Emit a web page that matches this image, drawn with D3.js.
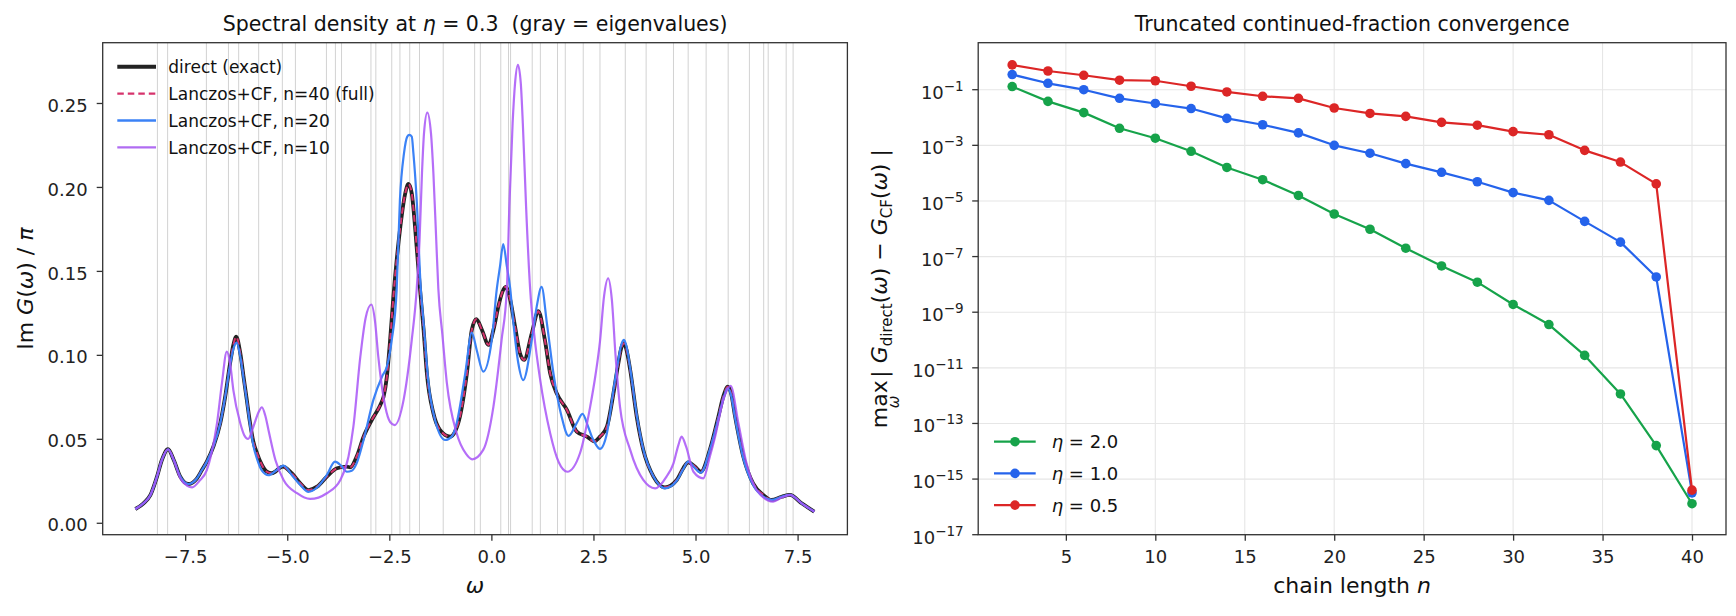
<!DOCTYPE html>
<html>
<head>
<meta charset="utf-8">
<script src="https://cdn.jsdelivr.net/npm/d3@7"></script>
<style>
  html, body { margin: 0; padding: 0; background: #fff; }
  svg { display: block; font-family: "DejaVu Sans", sans-serif; }
</style>
</head>
<body>
<div id="chart"></div>
<script>
// ---------- data ----------

// eigenvalues (gray vertical lines)
const eigenvalues = [-8.18, -7.93, -6.98, -6.44, -6.19, -5.70, -5.12, -4.80, -4.04, -3.82,
  -3.67, -2.95, -2.83, -2.44, -2.24, -2.00, -1.76, -1.18, -0.41, -0.27,
  0.23, 0.42, 0.47, 1.00, 1.20, 1.62, 1.81, 2.25, 2.66, 3.28,
  3.79, 4.46, 4.82, 5.26, 5.80, 6.32, 6.67, 6.78, 7.22, 7.39];

// [omega, Im G / pi] for the direct (exact) spectrum; the n=40 CF is the same curve
const directCurve = [[-8.72,0.0082],[-8.52,0.0116],[-8.35,0.0166],[-8.19,0.0275],[-8.07,0.0374],
  [-7.92,0.0438],[-7.78,0.0374],[-7.62,0.0275],[-7.42,0.0231],[-7.21,0.0265],[-7.09,0.0314],
  [-6.97,0.0364],[-6.81,0.0453],[-6.64,0.0593],[-6.52,0.0751],[-6.40,0.0950],[-6.32,0.1059],
  [-6.25,0.1108],[-6.15,0.1010],[-6.07,0.0870],[-5.99,0.0731],[-5.91,0.0593],[-5.83,0.0483],
  [-5.74,0.0414],[-5.62,0.0344],[-5.50,0.0304],[-5.38,0.0295],[-5.11,0.0334],[-4.89,0.0295],
  [-4.68,0.0235],[-4.48,0.0195],[-4.27,0.0215],[-4.03,0.0275],[-3.78,0.0325],[-3.54,0.0334],
  [-3.46,0.0330],[-3.30,0.0394],[-3.13,0.0513],[-2.93,0.0612],[-2.72,0.0702],[-2.64,0.0751],
  [-2.56,0.0870],[-2.48,0.1089],[-2.40,0.1347],[-2.23,0.1763],[-2.11,0.1962],[-2.03,0.2018],
  [-1.95,0.1962],[-1.87,0.1763],[-1.75,0.1397],[-1.66,0.1148],[-1.58,0.0890],[-1.42,0.0652],
  [-1.26,0.0553],[-1.01,0.0513],[-0.89,0.0543],[-0.77,0.0632],[-0.60,0.0890],[-0.48,0.1148],
  [-0.37,0.1212],[-0.23,0.1148],[-0.07,0.1059],[0.05,0.1148],[0.17,0.1287],[0.27,0.1375],
  [0.35,0.1405],[0.45,0.1340],[0.58,0.1168],[0.70,0.1010],[0.80,0.0970],[0.99,0.1129],
  [1.15,0.1260],[1.31,0.1089],[1.44,0.0890],[1.60,0.0771],[1.85,0.0672],[2.09,0.0543],
  [2.34,0.0513],[2.52,0.0485],[2.66,0.0513],[2.83,0.0572],[2.99,0.0771],[3.11,0.0950],
  [3.18,0.1039],[3.25,0.1069],[3.31,0.1029],[3.40,0.0910],[3.56,0.0632],[3.72,0.0434],
  [3.97,0.0275],[4.25,0.0211],[4.54,0.0255],[4.70,0.0325],[4.82,0.0360],[4.99,0.0334],
  [5.13,0.0304],[5.35,0.0434],[5.56,0.0632],[5.68,0.0751],[5.79,0.0810],[5.87,0.0771],
  [5.97,0.0632],[6.17,0.0394],[6.41,0.0235],[6.66,0.0166],[6.86,0.0136],[7.11,0.0155],
  [7.31,0.0166],[7.60,0.0116],[7.91,0.0066]];

// Lanczos + CF truncated at n = 20
const lanczos20Curve = [[-8.72,0.0082],[-8.52,0.0116],[-8.35,0.0166],[-8.19,0.0275],[-8.07,0.0374],
  [-7.92,0.0438],[-7.78,0.0374],[-7.62,0.0275],[-7.42,0.0231],[-7.21,0.0265],[-7.09,0.0314],
  [-6.97,0.0364],[-6.81,0.0453],[-6.64,0.0593],[-6.52,0.0751],[-6.40,0.0940],[-6.32,0.1035],
  [-6.24,0.1073],[-6.15,0.0990],[-6.07,0.0860],[-5.99,0.0725],[-5.91,0.0580],[-5.83,0.0460],
  [-5.74,0.0380],[-5.62,0.0310],[-5.46,0.0283],[-5.28,0.0310],[-5.09,0.0340],[-4.89,0.0285],
  [-4.68,0.0225],[-4.48,0.0184],[-4.27,0.0210],[-4.03,0.0285],[-3.83,0.0364],[-3.68,0.0340],
  [-3.54,0.0304],[-3.42,0.0310],[-3.30,0.0354],[-3.13,0.0493],[-2.89,0.0732],[-2.68,0.0870],
  [-2.56,0.0930],[-2.44,0.1089],[-2.32,0.1387],[-2.24,0.1923],[-2.14,0.2201],[-2.06,0.2300],
  [-2.01,0.2310],[-1.95,0.2300],[-1.91,0.2201],[-1.83,0.1923],[-1.73,0.1397],[-1.66,0.1188],
  [-1.54,0.0831],[-1.38,0.0612],[-1.13,0.0493],[-0.97,0.0513],[-0.85,0.0593],[-0.64,0.0890],
  [-0.48,0.1132],[-0.36,0.1029],[-0.20,0.0900],[0.01,0.1089],[0.13,0.1387],[0.21,0.1525],
  [0.29,0.1660],[0.38,0.1525],[0.46,0.1397],[0.54,0.1188],[0.66,0.0950],[0.78,0.0850],
  [0.99,0.1089],[1.11,0.1287],[1.23,0.1405],[1.36,0.1188],[1.52,0.0890],[1.72,0.0632],
  [1.89,0.0517],[2.09,0.0593],[2.23,0.0648],[2.37,0.0572],[2.46,0.0513],[2.55,0.0470],
  [2.66,0.0440],[2.83,0.0533],[2.99,0.0790],[3.11,0.0970],[3.18,0.1059],[3.25,0.1089],
  [3.31,0.1050],[3.40,0.0920],[3.56,0.0642],[3.72,0.0438],[3.97,0.0275],[4.25,0.0205],
  [4.54,0.0250],[4.70,0.0320],[4.82,0.0364],[4.99,0.0325],[5.13,0.0298],[5.35,0.0434],
  [5.56,0.0622],[5.68,0.0740],[5.79,0.0800],[5.87,0.0760],[5.97,0.0622],[6.17,0.0384],
  [6.41,0.0225],[6.66,0.0156],[6.86,0.0136],[7.11,0.0155],[7.31,0.0166],[7.60,0.0116],
  [7.91,0.0066]];

// Lanczos + CF truncated at n = 10
const lanczos10Curve = [[-8.72,0.0082],[-8.52,0.0116],[-8.35,0.0166],[-8.19,0.0275],[-8.07,0.0374],
  [-7.92,0.0438],[-7.78,0.0374],[-7.62,0.0265],[-7.45,0.0220],[-7.33,0.0211],[-7.15,0.0250],
  [-6.97,0.0314],[-6.85,0.0420],[-6.72,0.0593],[-6.60,0.0830],[-6.48,0.1019],[-6.40,0.0950],
  [-6.32,0.0790],[-6.15,0.0593],[-6.05,0.0520],[-5.96,0.0499],[-5.83,0.0572],[-5.70,0.0660],
  [-5.62,0.0688],[-5.54,0.0640],[-5.46,0.0553],[-5.29,0.0374],[-5.09,0.0255],[-4.76,0.0176],
  [-4.44,0.0142],[-4.03,0.0176],[-3.70,0.0255],[-3.50,0.0394],[-3.38,0.0572],[-3.21,0.0989],
  [-3.08,0.1220],[-2.94,0.1300],[-2.85,0.1200],[-2.77,0.0989],[-2.60,0.0692],[-2.48,0.0600],
  [-2.37,0.0582],[-2.15,0.0732],[-1.95,0.1089],[-1.83,0.1387],[-1.76,0.1680],[-1.70,0.2080],
  [-1.65,0.2320],[-1.57,0.2443],[-1.48,0.2320],[-1.42,0.2080],[-1.35,0.1680],[-1.30,0.1397],
  [-1.20,0.1120],[-1.09,0.0831],[-0.85,0.0533],[-0.62,0.0410],[-0.47,0.0378],[-0.20,0.0434],
  [0.05,0.0692],[0.25,0.1089],[0.38,0.1397],[0.44,0.1883],[0.52,0.2379],[0.58,0.2618],
  [0.65,0.2727],[0.72,0.2618],[0.77,0.2379],[0.85,0.1883],[0.95,0.1390],[1.05,0.1120],
  [1.19,0.0860],[1.44,0.0533],[1.65,0.0360],[1.86,0.0304],[2.17,0.0414],[2.42,0.0692],
  [2.55,0.0880],[2.66,0.1080],[2.76,0.1350],[2.86,0.1456],[2.95,0.1330],[3.04,0.1000],
  [3.15,0.0692],[3.40,0.0434],[3.72,0.0255],[4.01,0.0205],[4.29,0.0275],[4.46,0.0354],
  [4.58,0.0463],[4.66,0.0513],[4.77,0.0453],[4.95,0.0304],[5.19,0.0265],[5.35,0.0394],
  [5.48,0.0513],[5.68,0.0732],[5.86,0.0815],[6.05,0.0593],[6.25,0.0354],[6.50,0.0195],
  [6.90,0.0126],[7.11,0.0150],[7.31,0.0166],[7.60,0.0116],[7.91,0.0066]];

// right panel: max error vs chain length
const chainLengths = [2, 4, 6, 8, 10, 12, 14, 16, 18, 20, 22, 24, 26, 28, 30, 32, 34, 36, 38, 40];
const errEta20 = [0.13, 0.038, 0.015, 4.1e-3, 1.8e-3, 6.1e-4, 1.6e-4, 5.8e-5, 1.58e-5, 3.4e-6,
  9.6e-7, 2.0e-7, 4.6e-8, 1.2e-8, 1.9e-9, 3.6e-10, 2.8e-11, 1.15e-12, 1.6e-14, 1.3e-16];
const errEta10 = [0.35, 0.17, 0.10, 0.049, 0.032, 0.021, 9.3e-3, 5.5e-3, 2.8e-3, 1.0e-3,
  5.2e-4, 2.2e-4, 1.07e-4, 4.9e-5, 2.0e-5, 1.05e-5, 1.85e-6, 3.3e-7, 1.85e-8, 3.2e-16];
const errEta05 = [0.78, 0.47, 0.33, 0.22, 0.21, 0.133, 0.083, 0.058, 0.049, 0.022,
  0.014, 0.011, 6.7e-3, 5.3e-3, 3.1e-3, 2.4e-3, 6.6e-4, 2.5e-4, 4.1e-5, 4.0e-16];

const leftXTicks = [-7.5, -5, -2.5, 0, 2.5, 5, 7.5];
const leftYTicks = [0, 0.05, 0.10, 0.15, 0.20, 0.25];
const rightXTicks = [5, 10, 15, 20, 25, 30, 35, 40];
const rightYExponents = [-1, -3, -5, -7, -9, -11, -13, -15, -17];

// ---------- drawing ----------
const W = 1736, H = 616;
const svg = d3.select("#chart").append("svg")
  .attr("width", W).attr("height", H)
  .attr("xml:space", "preserve")
  .style("white-space", "pre");

svg.append("rect").attr("width", W).attr("height", H).attr("fill", "#fff");

function styleAxis(g) {
  g.select(".domain").remove();
  g.selectAll(".tick line").attr("stroke", "#333").attr("stroke-width", 1.3);
  g.selectAll(".tick text")
    .attr("fill", "#222")
    .style("font-family", "DejaVu Sans")
    .style("font-size", "18px");
}

// adds a text with tspans: parts = [{t, italic, size, dx, dy}]
function richText(parent, parts, baseSize) {
  const text = parent.append("text").style("font-size", baseSize + "px").attr("fill", "#111");
  parts.forEach(p => {
    const ts = text.append("tspan").text(p.t);
    if (p.italic) ts.style("font-style", "italic");
    if (p.size) ts.style("font-size", p.size + "px");
    if (p.dx) ts.attr("dx", p.dx);
    if (p.dy) ts.attr("dy", p.dy);
  });
  return text;
}

function drawSpectral() {
  const box = { left: 102.7, right: 847.4, top: 42.7, bottom: 534.7 };

  const x = d3.scaleLinear().domain([-9.52, 8.72]).range([box.left, box.right]);
  const y = d3.scaleLinear().domain([-0.0071, 0.2859]).range([box.bottom, box.top]);

  const g = svg.append("g");

  // eigenvalue markers
  g.append("g").selectAll("line")
    .data(eigenvalues)
    .join("line")
    .attr("x1", d => x(d)).attr("x2", d => x(d))
    .attr("y1", box.top).attr("y2", box.bottom)
    .attr("stroke", "#d2d2d2")
    .attr("stroke-width", 1);

  const line = d3.line()
    .x(d => x(d[0]))
    .y(d => y(d[1]))
    .curve(d3.curveMonotoneX);

  const series = [
    { data: directCurve, color: "#222222", width: 3.8, dash: null, opacity: 1 },
    { data: directCurve, color: "#d6336c", width: 2, dash: "6.5,4", opacity: 1 },
    { data: lanczos20Curve, color: "#3b82f6", width: 2.2, dash: null, opacity: 1 },
    { data: lanczos10Curve, color: "#a855f7", width: 2.2, dash: null, opacity: 0.85 }
  ];

  series.forEach(s => {
    g.append("path")
      .datum(s.data)
      .attr("d", line)
      .attr("fill", "none")
      .attr("stroke", s.color)
      .attr("stroke-width", s.width)
      .attr("stroke-dasharray", s.dash)
      .attr("stroke-linejoin", "round")
      .attr("opacity", s.opacity);
  });

  // axes
  g.append("g")
    .attr("transform", `translate(0,${box.bottom})`)
    .call(d3.axisBottom(x).tickValues(leftXTicks).tickFormat(d3.format(".1f")).tickSize(6).tickPadding(10))
    .call(styleAxis);

  g.append("g")
    .attr("transform", `translate(${box.left},0)`)
    .call(d3.axisLeft(y).tickValues(leftYTicks).tickFormat(d3.format(".2f")).tickSize(6).tickPadding(9))
    .call(styleAxis)
    .call(a => a.selectAll(".tick text").attr("dy", "0.45em"));

  g.append("rect")
    .attr("x", box.left).attr("y", box.top)
    .attr("width", box.right - box.left).attr("height", box.bottom - box.top)
    .attr("fill", "none").attr("stroke", "#333").attr("stroke-width", 1.3);

  // title (two spaces before the bracket, as in the original)
  richText(g, [
    { t: "Spectral density at " },
    { t: "η", italic: true },
    { t: " = 0.3\u00a0\u00a0(gray = eigenvalues)" }
  ], 20.5)
    .attr("x", (box.left + box.right) / 2).attr("y", 31)
    .attr("text-anchor", "middle");

  // axis labels
  richText(g, [{ t: "ω", italic: true }], 22)
    .attr("x", (box.left + box.right) / 2).attr("y", 593)
    .attr("text-anchor", "middle");

  richText(g, [
    { t: "Im " },
    { t: "G", italic: true },
    { t: "(" },
    { t: "ω", italic: true },
    { t: ") / " },
    { t: "π", italic: true }
  ], 22)
    .attr("text-anchor", "middle")
    .attr("transform", `translate(33,${(box.top + box.bottom) / 2}) rotate(-90)`);

  // legend
  const legendRows = [
    { label: "direct (exact)", color: "#222222", width: 4, dash: null },
    { label: "Lanczos+CF, n=40 (full)", color: "#d6336c", width: 2.2, dash: "6.5,4" },
    { label: "Lanczos+CF, n=20", color: "#3b82f6", width: 2.4, dash: null },
    { label: "Lanczos+CF, n=10", color: "#b06cf2", width: 2.4, dash: null }
  ];
  const legend = g.append("g");
  legendRows.forEach((r, i) => {
    const cy = 66.7 + i * 26.9;
    legend.append("line")
      .attr("x1", 117.3).attr("x2", 156)
      .attr("y1", cy).attr("y2", cy)
      .attr("stroke", r.color).attr("stroke-width", r.width)
      .attr("stroke-dasharray", r.dash);
    legend.append("text")
      .attr("x", 168.3).attr("y", cy + 6.2)
      .style("font-size", "17px").attr("fill", "#111")
      .text(r.label);
  });
}

function drawConvergence() {
  const box = { left: 978.2, right: 1726, top: 42.7, bottom: 534.7 };

  const x = d3.scaleLinear().domain([0.1, 41.9]).range([box.left, box.right]);
  const y = d3.scaleLog().domain([1e-17, Math.pow(10, 0.69)]).range([box.bottom, box.top]);

  const g = svg.append("g");

  // grid
  g.append("g").selectAll("line")
    .data(rightXTicks)
    .join("line")
    .attr("x1", d => x(d)).attr("x2", d => x(d))
    .attr("y1", box.top).attr("y2", box.bottom)
    .attr("stroke", "#e6e6e6").attr("stroke-width", 1.1);

  g.append("g").selectAll("line")
    .data(rightYExponents)
    .join("line")
    .attr("x1", box.left).attr("x2", box.right)
    .attr("y1", d => y(Math.pow(10, d))).attr("y2", d => y(Math.pow(10, d)))
    .attr("stroke", "#e6e6e6").attr("stroke-width", 1.1);

  const series = [
    { label: "2.0", values: errEta20, color: "#16a34a" },
    { label: "1.0", values: errEta10, color: "#2563eb" },
    { label: "0.5", values: errEta05, color: "#dc2626" }
  ];

  const line = d3.line()
    .x(d => x(d[0]))
    .y(d => y(d[1]));

  series.forEach(s => {
    const pts = chainLengths.map((n, i) => [n, s.values[i]]);
    g.append("path")
      .datum(pts)
      .attr("d", line)
      .attr("fill", "none")
      .attr("stroke", s.color)
      .attr("stroke-width", 2.2)
      .attr("stroke-linejoin", "round");
    g.append("g").selectAll("circle")
      .data(pts)
      .join("circle")
      .attr("cx", d => x(d[0]))
      .attr("cy", d => y(d[1]))
      .attr("r", 4.8)
      .attr("fill", s.color);
  });

  // axes
  g.append("g")
    .attr("transform", `translate(0,${box.bottom})`)
    .call(d3.axisBottom(x).tickValues(rightXTicks).tickFormat(d3.format("d")).tickSize(6).tickPadding(10))
    .call(styleAxis);

  const yAxis = g.append("g").attr("transform", `translate(${box.left},0)`);
  yAxis.selectAll("line")
    .data(rightYExponents)
    .join("line")
    .attr("x1", -6).attr("x2", 0)
    .attr("y1", d => y(Math.pow(10, d))).attr("y2", d => y(Math.pow(10, d)))
    .attr("stroke", "#333").attr("stroke-width", 1.3);
  yAxis.selectAll("text")
    .data(rightYExponents)
    .join("text")
    .attr("x", -14.5)
    .attr("y", d => y(Math.pow(10, d)) + 9)
    .attr("text-anchor", "end")
    .attr("fill", "#222")
    .style("font-size", "18px")
    .each(function (d) {
      const t = d3.select(this);
      t.append("tspan").text("10");
      t.append("tspan").attr("dy", -8).style("font-size", "13.5px").text("−" + Math.abs(d));
    });

  g.append("rect")
    .attr("x", box.left).attr("y", box.top)
    .attr("width", box.right - box.left).attr("height", box.bottom - box.top)
    .attr("fill", "none").attr("stroke", "#333").attr("stroke-width", 1.3);

  // title
  g.append("text")
    .attr("x", (box.left + box.right) / 2).attr("y", 31)
    .attr("text-anchor", "middle")
    .style("font-size", "20.5px").attr("fill", "#111")
    .text("Truncated continued-fraction convergence");

  // axis labels
  richText(g, [{ t: "chain length " }, { t: "n", italic: true }], 22)
    .attr("x", (box.left + box.right) / 2).attr("y", 593)
    .attr("text-anchor", "middle");

  // max over omega sits under "max"; the rest follows on the main baseline
  richText(g, [
    { t: "max" },
    { t: "ω", italic: true, size: 15, dx: -28, dy: 12 },
    { t: "|", dx: 18, dy: -12 },
    { t: "\u00a0" },
    { t: "G", italic: true },
    { t: "direct", size: 15, dy: 5 },
    { t: "(", dy: -5 },
    { t: "ω", italic: true },
    { t: ")\u00a0−\u00a0" },
    { t: "G", italic: true },
    { t: "CF", size: 15, dy: 5 },
    { t: "(", dy: -5 },
    { t: "ω", italic: true },
    { t: ")\u00a0|" }
  ], 22)
    .attr("text-anchor", "middle")
    .attr("transform", `translate(887,${(box.top + box.bottom) / 2}) rotate(-90)`);

  // legend
  const legend = g.append("g");
  series.forEach((s, i) => {
    const cy = 441.7 + i * 31.7;
    legend.append("line")
      .attr("x1", 994).attr("x2", 1035.7)
      .attr("y1", cy).attr("y2", cy)
      .attr("stroke", s.color).attr("stroke-width", 2.2);
    legend.append("circle")
      .attr("cx", 1015).attr("cy", cy).attr("r", 4.8)
      .attr("fill", s.color);
    richText(legend, [{ t: "η", italic: true }, { t: " = " + s.label }], 18)
      .attr("x", 1051.7).attr("y", cy + 6.5);
  });
}

drawSpectral();
drawConvergence();
</script>
</body>
</html>
